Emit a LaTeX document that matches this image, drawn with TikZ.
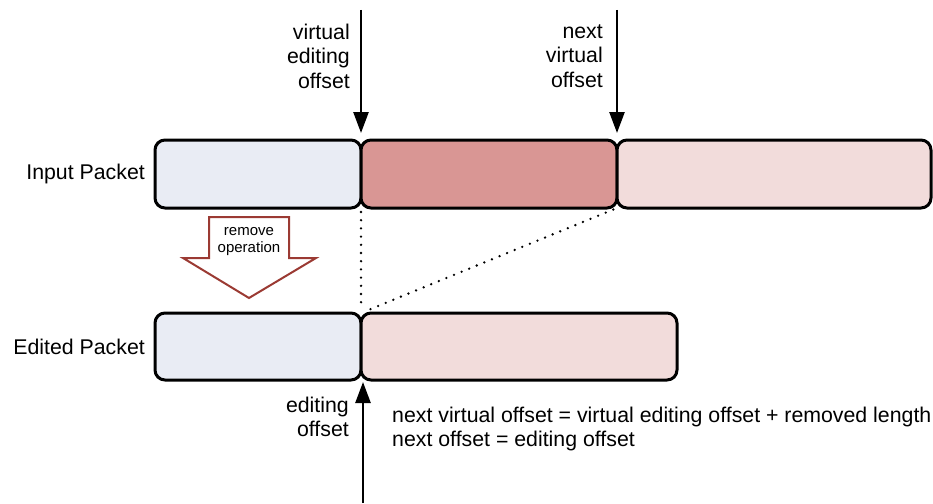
\documentclass[tikz,border=0pt]{standalone}
\usepackage{fontspec}
\setmainfont{Liberation Sans}
\usetikzlibrary{arrows.meta}
\definecolor{cblue}{HTML}{E9ECF4}
\definecolor{cred}{HTML}{D99694}
\definecolor{cpink}{HTML}{F2DCDB}
\definecolor{carrow}{HTML}{9B3A33}
\tikzset{
  pbox/.style={draw=black, line width=3pt, rounded corners=10pt, inner sep=0pt, outer sep=0pt},
  lbl/.style={inner sep=0pt, font=\fontsize{21.3}{24.5}\selectfont},
  marrow/.style={line width=2.5pt, -{Triangle[length=21pt,width=15pt]}},
  dotline/.style={line width=2.6pt, line cap=round, dash pattern=on 0pt off 8.2pt},
}
\begin{document}
\begin{tikzpicture}[x=1pt,y=-1pt]
\useasboundingbox (0,0) rectangle (933,503);
% input packet
\node[pbox, fill=cblue, minimum width=206pt, minimum height=68pt] (in1) at (258,174) {};
\node[pbox, fill=cred, minimum width=256pt, minimum height=68pt] (in2) at (489,174) {};
\node[pbox, fill=cpink, minimum width=314pt, minimum height=68pt] (in3) at (774,174) {};
% edited packet
\node[pbox, fill=cblue, minimum width=206pt, minimum height=67pt] (ed1) at (258,346.5) {};
\node[pbox, fill=cpink, minimum width=316pt, minimum height=67pt] (ed2) at (519,346.5) {};
% row labels
\node[lbl, anchor=east] (linput) at (145,174) {Input Packet};
\node[lbl, anchor=east] (ledited) at (145,347) {Edited Packet};
% top arrows
\coordinate (vtop) at (361,10);
\coordinate (ntop) at (617,10);
\draw[marrow, shorten >=7pt] (vtop) -- (in1.north east);
\draw[marrow, shorten >=7pt] (ntop) -- (in2.north east);
\node[lbl, align=right, anchor=east] (lv) at (350,56) {virtual\\editing\\offset};
\node[lbl, align=right, anchor=east] (ln) at (603,56) {next\\virtual\\offset};
% bottom arrow
\coordinate (ebot) at (363,503);
\coordinate (etip) at (363,380);
\draw[marrow, shorten >=2pt] (ebot) -- (etip);
\node[lbl, align=right, anchor=east] (le) at (349,417) {editing\\offset};
\node[lbl, align=left, anchor=west] (eq) at (392,429) {next virtual offset = virtual editing offset + removed length\\next offset = editing offset};
% dotted lines
\draw[dotline, shorten <=4pt, shorten >=6pt] (in1.south east) -- (ed1.north east);
\draw[dotline, shorten <=4pt, shorten >=6pt] (in2.south east) -- (ed1.north east);
% block arrow
\draw[carrow, line width=2pt, fill=white, line join=miter]
  (209,217) -- (289,217) -- (289,258) -- (316,258) -- (249,298) -- (183,258) -- (209,258) -- cycle;
\node[inner sep=0pt, align=center, font=\fontsize{15}{17}\selectfont] (op) at (249,242) {remove\\operation};
\end{tikzpicture}
\end{document}
